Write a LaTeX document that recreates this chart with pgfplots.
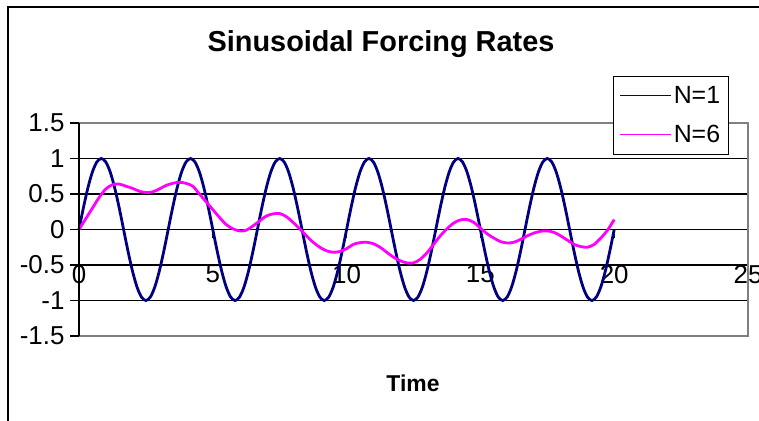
\documentclass[border=0pt]{standalone}
\usepackage{fontspec}
\setmainfont{Liberation Sans}
\usepackage{pgfplots}
\usepackage{pgfplotstable}
\pgfplotsset{compat=1.18}

\definecolor{navyline}{RGB}{0,0,128}
\definecolor{magline}{RGB}{255,0,255}
\definecolor{plotframe}{RGB}{128,128,128}

% N=1: forcing rate sampled every 1/6 time unit
\pgfplotstableread{
t y
0 0
0.1667 0.3090
0.3333 0.5878
0.5 0.8090
0.6667 0.9511
0.8333 1
1 0.9511
1.1667 0.8090
1.3333 0.5878
1.5 0.3090
1.6667 0
1.8333 -0.3090
2 -0.5878
2.1667 -0.8090
2.3333 -0.9511
2.5 -1
2.6667 -0.9511
2.8333 -0.8090
3 -0.5878
3.1667 -0.3090
3.3333 0
3.5 0.3090
3.6667 0.5878
3.8333 0.8090
4 0.9511
4.1667 1
4.3333 0.9511
4.5 0.8090
4.6667 0.5878
4.8333 0.3090
5 0
5.1667 -0.3090
5.3333 -0.5878
5.5 -0.8090
5.6667 -0.9511
5.8333 -1
6 -0.9511
6.1667 -0.8090
6.3333 -0.5878
6.5 -0.3090
6.6667 0
6.8333 0.3090
7 0.5878
7.1667 0.8090
7.3333 0.9511
7.5 1
7.6667 0.9511
7.8333 0.8090
8 0.5878
8.1667 0.3090
8.3333 0
8.5 -0.3090
8.6667 -0.5878
8.8333 -0.8090
9 -0.9511
9.1667 -1
9.3333 -0.9511
9.5 -0.8090
9.6667 -0.5878
9.8333 -0.3090
10 0
10.1667 0.3090
10.3333 0.5878
10.5 0.8090
10.6667 0.9511
10.8333 1
11 0.9511
11.1667 0.8090
11.3333 0.5878
11.5 0.3090
11.6667 0
11.8333 -0.3090
12 -0.5878
12.1667 -0.8090
12.3333 -0.9511
12.5 -1
12.6667 -0.9511
12.8333 -0.8090
13 -0.5878
13.1667 -0.3090
13.3333 0
13.5 0.3090
13.6667 0.5878
13.8333 0.8090
14 0.9511
14.1667 1
14.3333 0.9511
14.5 0.8090
14.6667 0.5878
14.8333 0.3090
15 0
15.1667 -0.3090
15.3333 -0.5878
15.5 -0.8090
15.6667 -0.9511
15.8333 -1
16 -0.9511
16.1667 -0.8090
16.3333 -0.5878
16.5 -0.3090
16.6667 0
16.8333 0.3090
17 0.5878
17.1667 0.8090
17.3333 0.9511
17.5 1
17.6667 0.9511
17.8333 0.8090
18 0.5878
18.1667 0.3090
18.3333 0
18.5 -0.3090
18.6667 -0.5878
18.8333 -0.8090
19 -0.9511
19.1667 -1
19.3333 -0.9511
19.5 -0.8090
19.6667 -0.5878
19.8333 -0.3090
20 0
}\forcingone

% N=6: forcing rate sampled every 1/4 time unit
\pgfplotstableread{
t y
0 0
0.25 0.15
0.5 0.30
0.75 0.45
1.0 0.57
1.25 0.63
1.5 0.64
1.75 0.61
2.0 0.58
2.25 0.54
2.5 0.52
2.75 0.53
3.0 0.57
3.25 0.62
3.5 0.65
3.75 0.665
4.0 0.65
4.25 0.61
4.5 0.50
4.75 0.39
5.0 0.28
5.25 0.17
5.5 0.07
5.75 0.01
6.0 -0.02
6.25 -0.01
6.5 0.05
6.75 0.12
7.0 0.19
7.25 0.22
7.5 0.225
7.75 0.18
8.0 0.10
8.25 0.01
8.5 -0.09
8.75 -0.18
9.0 -0.25
9.25 -0.30
9.5 -0.32
9.75 -0.31
10.0 -0.27
10.25 -0.21
10.5 -0.185
10.75 -0.18
11.0 -0.20
11.25 -0.25
11.5 -0.32
11.75 -0.39
12.0 -0.44
12.25 -0.47
12.5 -0.47
12.75 -0.42
13.0 -0.33
13.25 -0.21
13.5 -0.09
13.75 0.01
14.0 0.09
14.25 0.135
14.5 0.14
14.75 0.10
15.0 0.02
15.25 -0.06
15.5 -0.12
15.75 -0.17
16.0 -0.19
16.25 -0.18
16.5 -0.14
16.75 -0.09
17.0 -0.05
17.25 -0.025
17.5 -0.02
17.75 -0.04
18.0 -0.09
18.25 -0.15
18.5 -0.21
18.75 -0.24
19.0 -0.25
19.25 -0.21
19.5 -0.12
19.75 -0.01
20.0 0.14
}\forcingsix

\begin{document}
\begin{tikzpicture}
\path[use as bounding box] (0bp,0bp) rectangle (759bp,421bp);
% chart frame
\draw[line width=1.5bp] (8bp,0bp) -- (8bp,414bp) -- (759bp,414bp);
\node[font=\bfseries\fontsize{29}{34}\selectfont] at (381bp,377bp) {Sinusoidal Forcing Rates};
\node[font=\bfseries\fontsize{23}{27}\selectfont] at (413bp,38bp) {Time};

\begin{axis}[
  at={(79bp,85bp)}, anchor=south west,
  scale only axis, width=669bp, height=213bp,
  xmin=0, xmax=25, ymin=-1.5, ymax=1.5,
  axis x line=middle, axis y line=left,
  x axis line style={-, black, line width=1.2bp},
  y axis line style={-, black, line width=1.2bp},
  hide obscured x ticks=false, hide obscured y ticks=false,
  xtick={0,5,10,15,20,25},
  ytick={-1.5,-1,-0.5,0,0.5,1,1.5},
  tick align=outside, major tick length=9bp,
  tick style={black, line width=1.2bp},
  ymajorgrids, major grid style={black, line width=1.1bp},
  /pgf/number format/assume math mode=true,
  tick label style={font=\fontsize{26}{30}\selectfont},
  xticklabel style={yshift=-23bp},
  yticklabel style={xshift=-2bp},
  clip=false,
  legend style={at={(0.7982,1.2207)}, anchor=north west, draw=black, line width=1.1bp,
    fill=white, font=\fontsize{25}{29}\selectfont, inner xsep=6bp, inner ysep=7bp,
    nodes={inner xsep=2bp, inner ysep=3bp},
    row sep=14bp, /tikz/every even column/.append style={column sep=1bp}},
  legend cell align=left,
  legend image code/.code={\draw[#1, line width=1.2bp] (0bp,0bp) -- (51bp,0bp);},
  after end axis/.code={
    \draw[plotframe, line width=1.5bp] (rel axis cs:0,1) -- (rel axis cs:1,1)
      -- (rel axis cs:1,0) -- (rel axis cs:0,0);
    \draw[black, line width=1.2bp] (rel axis cs:0,0) -- (rel axis cs:0,1);
  },
]
\addplot[navyline, line width=2.8bp, smooth] table[x=t, y=y] {\forcingone};
\addlegendentry{N=1}
\addplot[magline, line width=2.8bp, smooth] table[x=t, y=y] {\forcingsix};
\addlegendentry{N=6}
\end{axis}
\end{tikzpicture}
\end{document}
